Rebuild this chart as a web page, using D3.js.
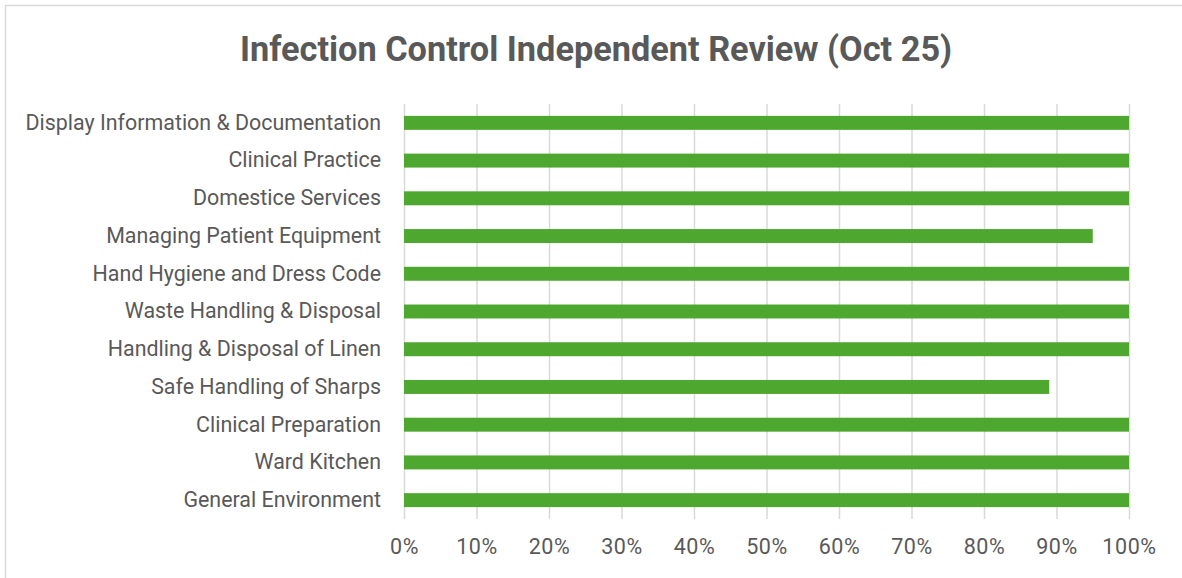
<!DOCTYPE html>
<html>
<head>
<meta charset="utf-8">
<script src="https://cdn.jsdelivr.net/npm/d3@7"></script>
<style>
  html, body { margin: 0; padding: 0; background: #fff; }
  svg { display: block; }
  text { font-family: Roboto, "Noto Sans", sans-serif; fill: #595959; }
</style>
</head>
<body>
<div id="chart"></div>
<script>
// data, top to bottom as drawn
const categories = [
  "Display Information & Documentation",
  "Clinical Practice",
  "Domestice Services",
  "Managing Patient Equipment",
  "Hand Hygiene and Dress Code",
  "Waste Handling & Disposal",
  "Handling & Disposal of Linen",
  "Safe Handling of Sharps",
  "Clinical Preparation",
  "Ward Kitchen",
  "General Environment"
];
const scores = [1, 1, 1, 0.95, 1, 1, 1, 0.89, 1, 1, 1];
const xTicks = [0, 0.1, 0.2, 0.3, 0.4, 0.5, 0.6, 0.7, 0.8, 0.9, 1];
const title = "Infection Control Independent Review (Oct 25)";

const width = 1182, height = 578;
const margin = { top: 104, right: 53, bottom: 59, left: 404 };
const innerW = width - margin.left - margin.right;
const innerH = height - margin.top - margin.bottom;

const svg = d3.select("#chart").append("svg")
  .attr("width", width).attr("height", height);

// chart frame (runs off the right/bottom edge)
svg.append("rect")
  .attr("x", 5.5).attr("y", 5.5)
  .attr("width", width + 10).attr("height", height + 10)
  .attr("fill", "none").attr("stroke", "#d9d9d9").attr("stroke-width", 1.5);

svg.append("text")
  .attr("x", 596).attr("y", 61)
  .attr("text-anchor", "middle")
  .style("font-size", "34.3px").style("font-weight", "bold")
  .text(title);

const g = svg.append("g")
  .attr("transform", `translate(${margin.left},${margin.top})`);

const x = d3.scaleLinear().domain([0, 1]).range([0, innerW]);
const y = d3.scaleBand().domain(categories).range([0, innerH]).paddingInner(0.63).paddingOuter(0.315);

// vertical grid
g.append("g")
  .call(d3.axisBottom(x).tickValues(xTicks).tickSize(innerH).tickFormat(""))
  .call(a => a.select(".domain").remove())
  .selectAll("line").attr("stroke", "#d9d9d9").attr("stroke-width", 1.5);

// x labels
const axX = g.append("g")
  .attr("transform", `translate(0,${innerH})`)
  .call(d3.axisBottom(x).tickValues(xTicks).tickSize(0).tickPadding(20).tickFormat(d3.format(".0%")));
axX.select(".domain").remove();
axX.selectAll("text").style("font-size", "21.5px").style("letter-spacing", "0.6px")
  .style("font-family", "Roboto, sans-serif").attr("fill", "#595959");

// y labels
const axY = g.append("g")
  .call(d3.axisLeft(y).tickSize(0).tickPadding(23));
axY.select(".domain").remove();
axY.selectAll("text").style("font-size", "21.4px")
  .style("font-family", "Roboto, sans-serif").attr("fill", "#595959");

g.selectAll("rect.bar")
  .data(categories)
  .join("rect")
  .attr("class", "bar")
  .attr("x", x(0))
  .attr("y", d => y(d))
  .attr("width", (d, i) => x(scores[i]) - x(0))
  .attr("height", y.bandwidth())
  .attr("fill", "#4ea72e");
</script>
</body>
</html>
